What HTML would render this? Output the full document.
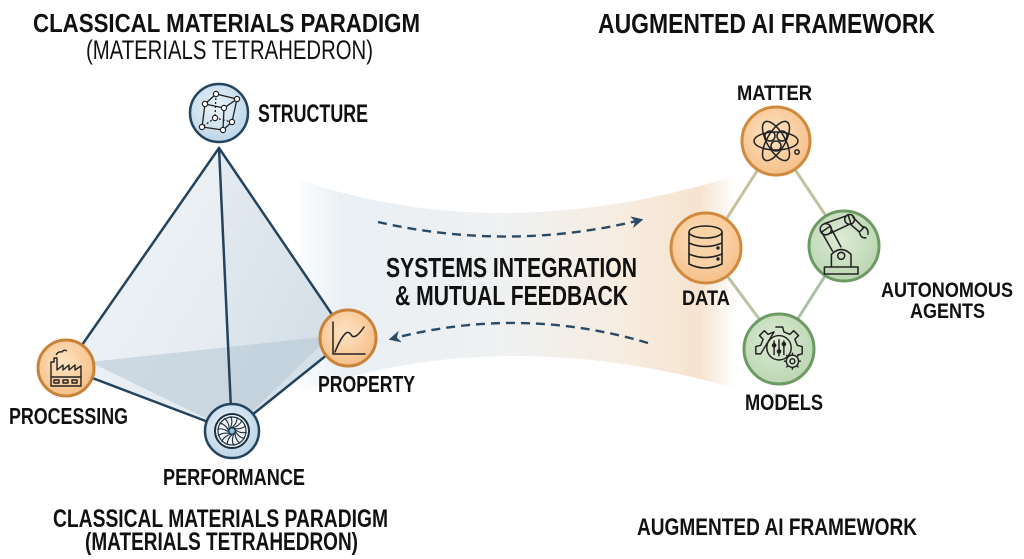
<!DOCTYPE html>
<html><head><meta charset="utf-8"><style>
html,body{margin:0;padding:0;background:#fff;}
svg{display:block;}
text{font-family:"Liberation Sans",Arial,sans-serif;font-weight:bold;fill:#111;}
</style></head><body>
<svg width="1024" height="559" viewBox="0 0 1024 559" xmlns="http://www.w3.org/2000/svg">
<defs>
<linearGradient id="band" x1="290" y1="0" x2="735" y2="0" gradientUnits="userSpaceOnUse">
<stop offset="0" stop-color="#e6edf2" stop-opacity="0"/>
<stop offset="0.12" stop-color="#e6edf2" stop-opacity="0.85"/>
<stop offset="0.48" stop-color="#eff1f2"/>
<stop offset="0.78" stop-color="#f7ebde"/>
<stop offset="0.92" stop-color="#f6e3cf"/>
<stop offset="1" stop-color="#f6e3cf" stop-opacity="0"/>
</linearGradient>
<linearGradient id="lface" x1="0" y1="0" x2="1" y2="1">
<stop offset="0" stop-color="#f1f5f8"/><stop offset="1" stop-color="#e2e9ef"/>
</linearGradient>
<linearGradient id="rface" x1="0" y1="0" x2="1" y2="1">
<stop offset="0" stop-color="#e4ebf1"/><stop offset="1" stop-color="#d0dbe4"/>
</linearGradient>
<radialGradient id="orange" cx="0.45" cy="0.4" r="0.6">
<stop offset="0" stop-color="#fde3c3"/><stop offset="1" stop-color="#f6c08a"/>
</radialGradient>
<radialGradient id="green" cx="0.45" cy="0.4" r="0.6">
<stop offset="0" stop-color="#dcebd5"/><stop offset="1" stop-color="#bcd6b2"/>
</radialGradient>
<radialGradient id="blue" cx="0.45" cy="0.4" r="0.6">
<stop offset="0" stop-color="#eaf3f9"/><stop offset="1" stop-color="#bdd6e8"/>
</radialGradient>
<marker id="ah" viewBox="0 0 10 10" refX="8" refY="5" markerWidth="5" markerHeight="5" orient="auto">
<path d="M0,0 L10,5 L0,10 L3,5 Z" fill="#2a4a66"/>
</marker>
</defs>

<!-- band -->
<path d="M300,180 Q500,248 735,176 L735,388 Q500,322 300,392 Z" fill="url(#band)"/>

<!-- tetrahedron faces -->
<polygon points="219,148 66,368 232,431" fill="url(#lface)"/>
<polygon points="219,148 232,431 348,338" fill="url(#rface)"/>
<polygon points="90,362 232,431 330,336" fill="#afc3d1" opacity="0.5"/>
<g stroke="#24435c" stroke-width="2.5" fill="none" stroke-linecap="round">
<line x1="219" y1="148" x2="66" y2="368"/>
<line x1="219" y1="148" x2="232" y2="431"/>
<line x1="219" y1="148" x2="348" y2="338"/>
<line x1="66" y1="368" x2="232" y2="431"/>
<line x1="232" y1="431" x2="348" y2="338"/>
</g>

<!-- dashed arrows -->
<path d="M378,222 Q510,252 641,220" fill="none" stroke="#2a4a66" stroke-width="2.4" stroke-dasharray="9,6" marker-end="url(#ah)"/>
<path d="M648,343 Q520,305 391,339" fill="none" stroke="#2a4a66" stroke-width="2.4" stroke-dasharray="9,6" marker-end="url(#ah)"/>

<!-- right connectors -->
<g stroke-width="3" stroke-linecap="round">
<line x1="757" y1="171" x2="727" y2="218" stroke="#c9bf9f"/>
<line x1="796" y1="171" x2="826" y2="216" stroke="#c3c29f"/>
<line x1="728" y1="277" x2="760" y2="320" stroke="#bcc2a4"/>
<line x1="825" y1="276" x2="797" y2="320" stroke="#a9c1a4"/>
</g>

<!-- blue nodes -->
<circle cx="219" cy="113" r="29" fill="url(#blue)" stroke="#24435c" stroke-width="2.5"/>
<g stroke="#222" stroke-width="1.3" fill="none">
<polygon points="205,104 224,108 223,130 202,127"/>
<polyline points="205,104 216,94 237,99 224,108"/>
<polyline points="237,99 232,122 223,130"/>
<line x1="216" y1="94" x2="215" y2="118" stroke-dasharray="2,2"/>
<line x1="215" y1="118" x2="232" y2="122" stroke-dasharray="2,2"/>
<line x1="215" y1="118" x2="202" y2="127" stroke-dasharray="2,2"/>
</g>
<g fill="#fff" stroke="#222" stroke-width="1.2">
<circle cx="216" cy="94" r="2.6"/><circle cx="237" cy="99" r="2.6"/><circle cx="205" cy="104" r="2.6"/><circle cx="224" cy="108" r="2.6"/>
<circle cx="215" cy="118" r="2.6"/><circle cx="232" cy="122" r="2.6"/><circle cx="202" cy="127" r="2.6"/><circle cx="223" cy="130" r="2.6"/>
</g>

<circle cx="232" cy="431" r="27" fill="url(#blue)" stroke="#24435c" stroke-width="2.5"/>
<circle cx="232" cy="431" r="17" fill="#f4f8fb" stroke="#1e2f3d" stroke-width="2"/>
<circle cx="232" cy="431" r="14" fill="none" stroke="#1e2f3d" stroke-width="1.2"/>
<g stroke="#1e2f3d" stroke-width="1.1" fill="none">
<path d="M232,428 Q240,426 242,420"/>
<path d="M232,428 Q240,426 242,420" transform="rotate(26 232 431)"/>
<path d="M232,428 Q240,426 242,420" transform="rotate(52 232 431)"/>
<path d="M232,428 Q240,426 242,420" transform="rotate(78 232 431)"/>
<path d="M232,428 Q240,426 242,420" transform="rotate(104 232 431)"/>
<path d="M232,428 Q240,426 242,420" transform="rotate(130 232 431)"/>
<path d="M232,428 Q240,426 242,420" transform="rotate(156 232 431)"/>
<path d="M232,428 Q240,426 242,420" transform="rotate(182 232 431)"/>
<path d="M232,428 Q240,426 242,420" transform="rotate(208 232 431)"/>
<path d="M232,428 Q240,426 242,420" transform="rotate(234 232 431)"/>
<path d="M232,428 Q240,426 242,420" transform="rotate(260 232 431)"/>
<path d="M232,428 Q240,426 242,420" transform="rotate(286 232 431)"/>
<path d="M232,428 Q240,426 242,420" transform="rotate(312 232 431)"/>
<path d="M232,428 Q240,426 242,420" transform="rotate(338 232 431)"/>
</g>
<circle cx="232" cy="431" r="3" fill="#8fc3e6" stroke="#1e2f3d" stroke-width="0.8"/>

<!-- orange nodes left -->
<circle cx="66" cy="368" r="28" fill="url(#orange)" stroke="#c98339" stroke-width="3"/>
<g stroke="#222" stroke-width="1.4" fill="none" stroke-linejoin="round">
<path d="M51,386 L51,362 L54,362 L54,358 L57,358 L57,370 L63,365 L63,370 L69,365 L69,370 L75,365 L75,370 L81,366 L81,386 Z"/>
<line x1="51" y1="377" x2="81" y2="377"/>
<rect x="54" y="380" width="5" height="3"/><rect x="63" y="380" width="5" height="3"/><rect x="72" y="380" width="5" height="3"/>
<path d="M56,355 Q58,351 62,352 Q64,349 67,351"/>
</g>

<circle cx="348" cy="338" r="28" fill="url(#orange)" stroke="#c98339" stroke-width="3"/>
<g stroke="#222" stroke-width="1.5" fill="none" stroke-linejoin="round" stroke-linecap="round">
<polyline points="333,322 333,354 365,354"/>
<path d="M335,352 Q341,337 346,333 Q349,331 352,336 Q356,339 364,327"/>
</g>

<!-- right nodes -->
<circle cx="776" cy="141" r="34" fill="url(#orange)" stroke="#d08a3e" stroke-width="3"/>
<g stroke="#222" stroke-width="1.5" fill="none">
<ellipse cx="776" cy="141" rx="22" ry="9"/>
<ellipse cx="776" cy="141" rx="22" ry="9" transform="rotate(60 776 141)"/>
<ellipse cx="776" cy="141" rx="22" ry="9" transform="rotate(120 776 141)"/>
<circle cx="770" cy="136" r="5"/><circle cx="782" cy="136" r="5"/><circle cx="776" cy="146" r="5"/>
<circle cx="797" cy="152" r="2.2"/>
</g>

<circle cx="706" cy="248" r="35" fill="url(#orange)" stroke="#d08a3e" stroke-width="3"/>
<g stroke="#222" stroke-width="1.6" fill="#f8d3a8">
<path d="M689,232 L689,264 Q705,272 722,264 L722,232"/>
<ellipse cx="705.5" cy="232" rx="16.5" ry="6"/>
<path d="M689,243 Q705,250 722,243" fill="none"/>
<path d="M689,254 Q705,261 722,254" fill="none"/>
<circle cx="718" cy="248" r="0.9" fill="#222"/><circle cx="718" cy="259" r="0.9" fill="#222"/>
</g>

<circle cx="844" cy="246" r="35" fill="url(#green)" stroke="#6c9a62" stroke-width="3"/>
<g transform="translate(844 246) scale(1.4) translate(-844 -246)">
<g stroke="#222" stroke-width="1.1" fill="none" stroke-linejoin="round">
<rect x="830" y="261" width="24" height="5"/>
<path d="M835,261 L835,252 Q842,245 849,252 L849,261"/>
<circle cx="842" cy="253" r="2.5"/>
<path d="M836,250 L828,236 L834,232 L842,247"/>
<circle cx="831" cy="234" r="4"/>
<path d="M830,230 L847,224 L849,230 L834,237"/>
<circle cx="848" cy="227" r="3.5"/>
<path d="M850,225 L858,233 L855,236 L848,230"/>
<path d="M857,232 Q862,233 861,238 M855,236 Q856,241 860,240"/>
</g>
</g>

<circle cx="779" cy="349" r="35" fill="url(#green)" stroke="#6c9a62" stroke-width="3"/>
<g transform="translate(779 349) scale(1.22) translate(-779 -349)">
<g stroke="#222" stroke-width="1.2" fill="none" stroke-linejoin="round">
<path d="M776,331 L782,331 L783,335 L788,337 L791,334 L795,338 L792,341 L794,346 L798,347 L798,353 L794,354 M764,353 L760,353 L760,347 L764,346 L766,341 L763,338 L767,334 L770,337 L775,335 Z"/>
<circle cx="779" cy="348" r="10"/>
<line x1="775" y1="342" x2="775" y2="354"/><line x1="779" y1="341" x2="779" y2="355"/><line x1="783" y1="342" x2="783" y2="354"/>
<circle cx="775" cy="346" r="1.3" fill="#222"/><circle cx="779" cy="351" r="1.3" fill="#222"/><circle cx="783" cy="345" r="1.3" fill="#222"/>
<circle cx="790" cy="359" r="5" fill="#cfe4c7"/>
<circle cx="790" cy="359" r="2"/>
<path d="M790,352 L790,354 M790,364 L790,366 M783,359 L785,359 M795,359 L797,359 M785,354 L786,355 M794,363 L795,364 M795,354 L794,355 M786,363 L785,364"/>
</g>
</g>

<!-- text -->
<text x="33" y="32" font-size="26" textLength="387" lengthAdjust="spacingAndGlyphs">CLASSICAL MATERIALS PARADIGM</text>
<text x="86" y="59" font-size="27" style="font-weight:normal" fill="#222" textLength="287" lengthAdjust="spacingAndGlyphs">(MATERIALS TETRAHEDRON)</text>
<text x="258" y="122" font-size="25" textLength="110" lengthAdjust="spacingAndGlyphs">STRUCTURE</text>
<text x="9" y="424" font-size="23" textLength="119" lengthAdjust="spacingAndGlyphs">PROCESSING</text>
<text x="318" y="392" font-size="23" textLength="97" lengthAdjust="spacingAndGlyphs">PROPERTY</text>
<text x="163" y="485" font-size="23" textLength="142" lengthAdjust="spacingAndGlyphs">PERFORMANCE</text>
<text x="53" y="527" font-size="25" textLength="335" lengthAdjust="spacingAndGlyphs">CLASSICAL MATERIALS PARADIGM</text>
<text x="85" y="550" font-size="25" textLength="273" lengthAdjust="spacingAndGlyphs">(MATERIALS TETRAHEDRON)</text>

<text x="386" y="277" font-size="28" textLength="251" lengthAdjust="spacingAndGlyphs">SYSTEMS INTEGRATION</text>
<text x="395" y="305" font-size="28" textLength="233" lengthAdjust="spacingAndGlyphs">&amp; MUTUAL FEEDBACK</text>

<text x="598" y="33" font-size="28" textLength="337" lengthAdjust="spacingAndGlyphs">AUGMENTED AI FRAMEWORK</text>
<text x="737" y="100" font-size="21" textLength="75" lengthAdjust="spacingAndGlyphs">MATTER</text>
<text x="682" y="305" font-size="21" textLength="48" lengthAdjust="spacingAndGlyphs">DATA</text>
<text x="881" y="297" font-size="21" textLength="132" lengthAdjust="spacingAndGlyphs">AUTONOMOUS</text>
<text x="910" y="318" font-size="21" textLength="75" lengthAdjust="spacingAndGlyphs">AGENTS</text>
<text x="745" y="410" font-size="22" textLength="78" lengthAdjust="spacingAndGlyphs">MODELS</text>
<text x="637" y="535" font-size="24" textLength="280" lengthAdjust="spacingAndGlyphs">AUGMENTED AI FRAMEWORK</text>
</svg>
</body></html>
